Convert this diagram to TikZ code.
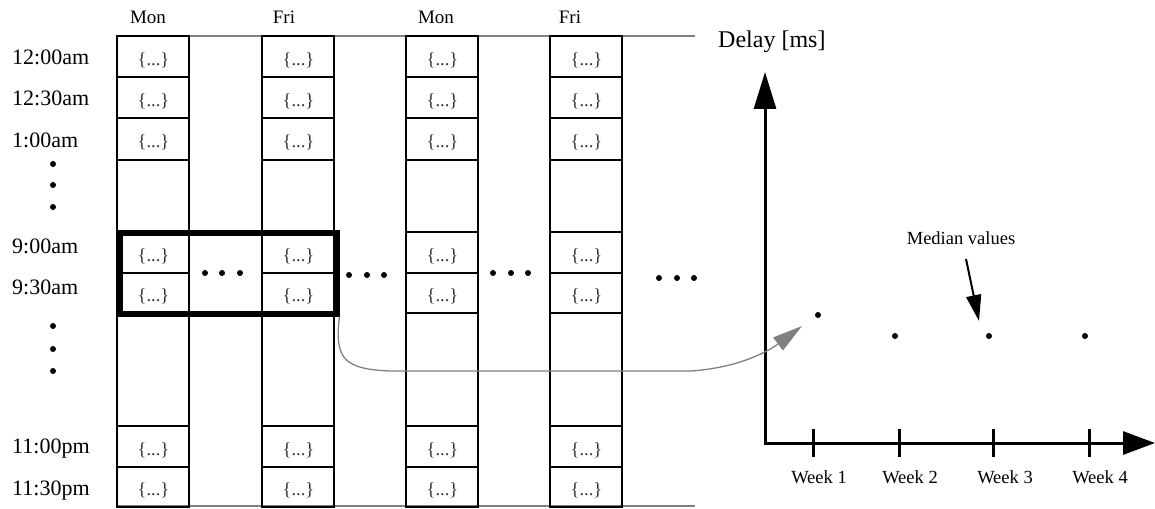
\documentclass[tikz,border=0pt]{standalone}
\usepackage{fontspec}
\setmainfont{Liberation Serif}
\usetikzlibrary{arrows.meta}
\begin{document}
\begin{tikzpicture}[x=1pt,y=-1pt,
  cell/.style={draw=black,line width=2pt},
  celltext/.style={font=\fontsize{18.5}{18.5}\selectfont, text=black!80, inner sep=0pt},
  rowlabel/.style={font=\fontsize{22}{22}\selectfont, anchor=base west, inner sep=0pt},
  dayhead/.style={font=\fontsize{19}{19}\selectfont, anchor=base, inner sep=0pt},
  smalltext/.style={font=\fontsize{18.5}{18.5}\selectfont, anchor=base, inner sep=0pt},
  bigtext/.style={font=\fontsize{24}{24}\selectfont, anchor=base west, inner sep=0pt},
  bigdot/.style={circle, fill=black, inner sep=0pt, minimum size=6pt},
  gline/.style={draw=black!50, line width=1.8pt},
  axis/.style={line width=3pt},
]
\useasboundingbox (0,0) rectangle (1155,508);

% grey top and bottom lines
\coordinate (gtl) at (117,36);
\coordinate (gtr) at (695,36);
\coordinate (gbl) at (117,506);
\coordinate (gbr) at (695,506);
\draw[gline] (gtl) -- (gtr);
\draw[gline] (gbl) -- (gbr);

% columns
\foreach \c/\x in {a/117, b/262, c/406, d/550}{
  \pgfmathsetmacro{\xr}{\x+72}
  \pgfmathsetmacro{\xm}{\x+36.5}
  \foreach \t/\b in {36/77, 77/118, 118/160, 160/232, 232/273, 273/313, 313/426, 426/467, 467/507}{
    \draw[cell] (\x,\t) rectangle (\xr,\b);
  }
  \foreach \r/\y in {1/60, 2/101, 3/142.5, 5/256, 6/296.5, 8/450, 9/490.5}{
    \node[celltext] (cell-\c-\r) at (\xm,\y) {\{...\}};
  }
}

% day headers
\node[dayhead] (hmon1) at (148,24) {Mon};
\node[dayhead] (hfri1) at (284,24) {Fri};
\node[dayhead] (hmon2) at (436,24) {Mon};
\node[dayhead] (hfri2) at (570,24) {Fri};

% row labels
\node[rowlabel] (l1) at (12,65) {12:00am};
\node[rowlabel] (l2) at (12,106) {12:30am};
\node[rowlabel] (l3) at (12,147) {1:00am};
\node[rowlabel] (l5) at (12,253) {9:00am};
\node[rowlabel] (l6) at (12,294) {9:30am};
\node[rowlabel] (l8) at (12,453) {11:00pm};
\node[rowlabel] (l9) at (12,495) {11:30pm};

% vertical dots on the left
\node[bigdot] (vd1) at (53,164) {};
\node[bigdot] (vd2) at (53,185) {};
\node[bigdot] (vd3) at (53,207) {};
\node[bigdot] (vd4) at (53,326) {};
\node[bigdot] (vd5) at (53,349) {};
\node[bigdot] (vd6) at (53,371) {};

% thick selection box
\node[draw=black, line width=5.5pt, minimum width=217pt, minimum height=81pt,
      inner sep=0pt, anchor=north west] (sel) at (117,230) {};

% horizontal dots
\foreach \i/\x/\y in {1/205/273, 2/222/273, 3/240/273,
                      4/349/275, 5/367/275, 6/384/275,
                      7/493/273, 8/511/273, 9/528/273,
                      10/659/278, 11/677/278, 12/694/278}{
  \node[bigdot] (hd\i) at (\x,\y) {};
}

% graph axes
\coordinate (origin) at (765,443);
\coordinate (xorig) at (763.5,443);
\coordinate (ytop) at (765,72);
\coordinate (xend) at (1155,443);
\draw[axis, -{Triangle[length=37pt,width=22pt]}] (origin) -- (ytop);
\draw[axis, -{Triangle[length=32pt,width=23pt]}] (xorig) -- (xend);

% ticks and week labels
\foreach \i/\x/\lx in {1/813/819, 2/899/910, 3/993/1005, 4/1089/1100}{
  \coordinate (tt\i) at (\x,429);
  \coordinate (tb\i) at (\x,457);
  \draw[axis] (tt\i) -- (tb\i);
  \node[smalltext] (wk\i) at (\lx,483) {Week \i};
}

\node[bigtext] (ylabel) at (718,48) {Delay [ms]};

% median points
\node[bigdot] (w1) at (818,315) {};
\node[bigdot] (w2) at (895,336) {};
\node[bigdot] (w3) at (989,336) {};
\node[bigdot] (w4) at (1085,336) {};

\node[smalltext] (median) at (961,244) {Median values};
\coordinate (medstart) at (966,259);
\coordinate (medtip) at (979,321);
\draw[line width=2pt, -{Triangle[length=26pt,width=15pt]}] (medstart) -- (medtip);

% grey curved connector
\coordinate (curveend) at (802,326);
\draw[draw=black!50, line width=1.3pt, -{Triangle[length=30pt,width=16pt]}]
  (sel.south east) .. controls (334,360) and (345,369) .. (390,371)
  -- (690,371) .. controls (740,368) and (770,350) .. (curveend);
\end{tikzpicture}
\end{document}
